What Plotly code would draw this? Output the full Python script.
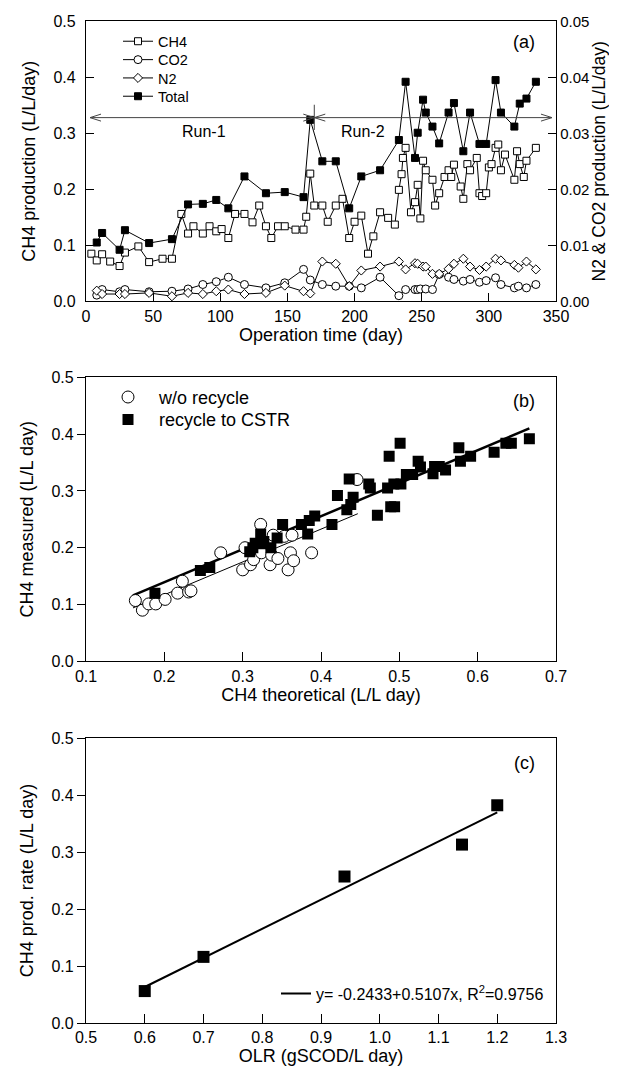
import numpy as np
import plotly.graph_objects as go

FONT = "Liberation Sans, Arial, sans-serif"

# ---------------- Panel (a) data ----------------
ch4_day = [4, 8, 12, 18, 25, 29, 39, 47, 57, 64, 71, 76, 80, 87, 92, 97, 101, 106, 111, 118,
           124, 129, 134, 138, 143, 148, 156, 162, 164, 167, 170, 176, 180, 186, 191, 196, 200,
           205, 210, 214, 219, 225, 230, 233, 235, 236, 238, 242, 245, 247, 249, 251, 253, 258,
           260, 263, 267, 270, 272, 274, 279, 281, 284, 286, 291, 293, 295, 298, 300, 302, 305,
           307, 309, 312, 319, 321, 323, 326, 328, 335]
ch4_val = [0.085, 0.073, 0.084, 0.071, 0.063, 0.087, 0.098, 0.070, 0.076, 0.076, 0.156, 0.121,
           0.134, 0.121, 0.134, 0.125, 0.129, 0.113, 0.156, 0.156, 0.141, 0.171, 0.134, 0.113,
           0.134, 0.134, 0.128, 0.128, 0.151, 0.228, 0.171, 0.171, 0.142, 0.171, 0.183, 0.113,
           0.142, 0.153, 0.085, 0.116, 0.159, 0.149, 0.137, 0.199, 0.227, 0.256, 0.274, 0.159,
           0.177, 0.208, 0.148, 0.251, 0.234, 0.217, 0.171, 0.193, 0.222, 0.234, 0.222, 0.244,
           0.205, 0.183, 0.245, 0.234, 0.256, 0.193, 0.188, 0.193, 0.239, 0.245, 0.274, 0.280,
           0.234, 0.262, 0.217, 0.268, 0.245, 0.222, 0.251, 0.274]

total_day = [8, 12, 25, 29, 47, 64, 76, 87, 97, 106, 118, 134, 148, 162, 167, 176, 186, 196,
             205, 219, 233, 238, 245, 247, 251, 253, 258, 263, 270, 274, 281, 286, 293, 298,
             305, 309, 319, 323, 328, 335]
total_val = [0.105, 0.122, 0.092, 0.127, 0.104, 0.111, 0.173, 0.174, 0.181, 0.166, 0.223,
             0.193, 0.195, 0.186, 0.324, 0.250, 0.250, 0.166, 0.223, 0.234, 0.288, 0.392,
             0.256, 0.301, 0.360, 0.337, 0.312, 0.282, 0.337, 0.354, 0.268, 0.337, 0.281,
             0.281, 0.395, 0.337, 0.312, 0.353, 0.362, 0.392]

co2_day = [8, 12, 25, 29, 47, 64, 76, 87, 97, 106, 118, 134, 148, 162, 167, 176, 186, 196,
           205, 219, 233, 238, 245, 247, 249, 253, 258, 263, 270, 274, 281, 286, 293, 298,
           305, 309, 319, 322, 328, 335]
co2_val = [0.0011, 0.0021, 0.0017, 0.0021, 0.0017, 0.0018, 0.0022, 0.0030, 0.0035, 0.0043,
           0.0030, 0.0024, 0.0033, 0.0057, 0.0038, 0.0030, 0.0027, 0.0027, 0.0024, 0.0043,
           0.0010, 0.0021, 0.0021, 0.0021, 0.0022, 0.0022, 0.0021, 0.0048, 0.0043, 0.0039,
           0.0036, 0.0039, 0.0034, 0.0037, 0.0042, 0.0030, 0.0024, 0.0027, 0.0024, 0.0030]

n2_day = [8, 12, 25, 29, 47, 64, 76, 87, 97, 106, 118, 134, 148, 162, 167, 176, 186, 196,
          205, 219, 233, 238, 245, 247, 251, 253, 258, 263, 270, 274, 281, 286, 293, 298,
          305, 309, 319, 322, 328, 335]
n2_val = [0.0019, 0.0013, 0.0013, 0.0013, 0.0015, 0.0009, 0.0015, 0.0013, 0.0018, 0.0021,
          0.0013, 0.0015, 0.0028, 0.0018, 0.0014, 0.0071, 0.0067, 0.0027, 0.0055, 0.0062,
          0.0071, 0.0057, 0.0068, 0.0067, 0.0062, 0.0062, 0.0049, 0.0049, 0.0058, 0.0067,
          0.0076, 0.0062, 0.0056, 0.0062, 0.0076, 0.0073, 0.0065, 0.0060, 0.0071, 0.0057]

run_labels = ["Run-1", "Run-2"]
run_start = [3, 170]
run_end = [170, 347]
run_arrow_y = 0.328
run_divider_y = [0.306, 0.351]
run_label_x = [88, 206]
run_label_y = 0.304

# ---------------- Panel (b) data ----------------
norec_x = [0.163, 0.172, 0.180, 0.189, 0.201, 0.217, 0.223, 0.231, 0.234, 0.272, 0.300, 0.303,
           0.310, 0.314, 0.323, 0.324, 0.335, 0.337, 0.339, 0.345, 0.353, 0.358, 0.361, 0.363,
           0.365, 0.388, 0.446]
norec_y = [0.107, 0.090, 0.101, 0.101, 0.109, 0.120, 0.141, 0.122, 0.124, 0.191, 0.161, 0.200,
           0.170, 0.179, 0.241, 0.191, 0.170, 0.187, 0.222, 0.181, 0.220, 0.161, 0.191, 0.222,
           0.177, 0.191, 0.320]

rec_x = [0.188, 0.246, 0.258, 0.309, 0.313, 0.316, 0.323, 0.325, 0.327, 0.336, 0.344, 0.351,
         0.375, 0.383, 0.385, 0.392, 0.414, 0.421, 0.433, 0.436, 0.438, 0.441, 0.461, 0.463,
         0.472, 0.485, 0.487, 0.489, 0.494, 0.493, 0.501, 0.502, 0.509, 0.517, 0.524, 0.527,
         0.543, 0.545, 0.551, 0.559, 0.576, 0.578, 0.591, 0.621, 0.636, 0.643, 0.666]
rec_y = [0.120, 0.160, 0.165, 0.193, 0.200, 0.208, 0.224, 0.207, 0.211, 0.200, 0.217, 0.241,
         0.241, 0.224, 0.248, 0.256, 0.241, 0.292, 0.267, 0.321, 0.276, 0.289, 0.312, 0.305,
         0.257, 0.305, 0.361, 0.272, 0.272, 0.312, 0.384, 0.312, 0.329, 0.329, 0.352, 0.342,
         0.330, 0.343, 0.343, 0.337, 0.376, 0.352, 0.361, 0.368, 0.384, 0.384, 0.392]

rec_fit = [0.023, 0.581]          # intercept, slope
rec_fit_range = [0.16, 0.666]
norec_fit = [0.0015, 0.578]
norec_fit_range = [0.16, 0.447]

# ---------------- Panel (c) data ----------------
olr_x = [0.60, 0.70, 0.94, 1.14, 1.20]
rate_y = [0.056, 0.116, 0.257, 0.313, 0.382]
c_fit = [-0.2433, 0.5107]
c_fit_r2 = 0.9756

# ---------------- layout geometry ----------------
W, H = 617, 1066
XL, XR = 78, 548


def ydom(top, bottom):
    return [1 - bottom / H, 1 - top / H]


xdom = [XL / W, XR / W]
dom_a = ydom(13.3, 293.3)
dom_b = ydom(369.3, 653.3)
dom_c = ydom(730, 1015)

fig = go.Figure()

line_k = dict(color="black", width=1)

# Panel (a) traces
fig.add_trace(go.Scatter(x=ch4_day, y=ch4_val, name="CH4", mode="lines+markers",
                         line=line_k, xaxis="x", yaxis="y", legend="legend",
                         marker=dict(symbol="square", size=7, color="white",
                                     line=dict(color="black", width=1))))
fig.add_trace(go.Scatter(x=co2_day, y=co2_val, name="CO2", mode="lines+markers",
                         line=line_k, xaxis="x", yaxis="y2", legend="legend2",
                         marker=dict(symbol="circle", size=8, color="white",
                                     line=dict(color="black", width=1))))
fig.add_trace(go.Scatter(x=n2_day, y=n2_val, name="N2", mode="lines+markers",
                         line=line_k, xaxis="x", yaxis="y2", legend="legend3",
                         marker=dict(symbol="diamond", size=7, color="white",
                                     line=dict(color="black", width=1))))
fig.add_trace(go.Scatter(x=total_day, y=total_val, name="Total", mode="lines+markers",
                         line=line_k, xaxis="x", yaxis="y", legend="legend4",
                         marker=dict(symbol="square", size=7, color="black",
                                     line=dict(color="black", width=1))))

# Panel (b) traces
fx = np.array(norec_fit_range)
fig.add_trace(go.Scatter(x=fx, y=norec_fit[0] + norec_fit[1] * fx, mode="lines",
                         line=dict(color="black", width=1), showlegend=False,
                         xaxis="x2", yaxis="y3"))
fx = np.array(rec_fit_range)
fig.add_trace(go.Scatter(x=fx, y=rec_fit[0] + rec_fit[1] * fx, mode="lines",
                         line=dict(color="black", width=2.5), showlegend=False,
                         xaxis="x2", yaxis="y3"))
fig.add_trace(go.Scatter(x=norec_x, y=norec_y, name="w/o recycle", mode="markers",
                         xaxis="x2", yaxis="y3", legend="legend5",
                         marker=dict(symbol="circle", size=12, color="white",
                                     line=dict(color="black", width=1))))
fig.add_trace(go.Scatter(x=rec_x, y=rec_y, name="recycle to CSTR", mode="markers",
                         xaxis="x2", yaxis="y3", legend="legend6",
                         marker=dict(symbol="square", size=11, color="black",
                                     line=dict(color="black", width=0))))

# Panel (c) traces
fx = np.array([min(olr_x), max(olr_x)])
fig.add_trace(go.Scatter(x=fx, y=c_fit[0] + c_fit[1] * fx, mode="lines",
                         name=f"y= {c_fit[0]:.4f}+{c_fit[1]:.4f}x, R<sup>2</sup>={c_fit_r2:.4f}",
                         line=dict(color="black", width=2), xaxis="x3", yaxis="y4",
                         legend="legend7"))
fig.add_trace(go.Scatter(x=olr_x, y=rate_y, mode="markers", showlegend=False,
                         xaxis="x3", yaxis="y4",
                         marker=dict(symbol="square", size=12, color="black",
                                     line=dict(width=0))))

# ---------------- axes ----------------
tickfont = dict(family=FONT, size=16, color="black")
titlefont = dict(family=FONT, size=18, color="black")
base = dict(showline=True, linecolor="black", linewidth=1.3, mirror=True, showgrid=False,
            zeroline=False, tickcolor="black", tickwidth=1.1, tickfont=tickfont,
            automargin=False)

fig.update_layout(
    xaxis=dict(base, domain=xdom, anchor="y", range=[0, 350], dtick=50, ticks="inside",
               ticklen=8, title=dict(text="Operation time (day)", font=titlefont, standoff=2)),
    yaxis=dict(base, domain=dom_a, anchor="x", range=[0, 0.5], dtick=0.1, tickformat=".1f",
               ticks="inside", ticklen=8, ticklabelstandoff=6,
               title=dict(text="CH4 production (L/L/day)", font=titlefont, standoff=13)),
    yaxis2=dict(base, overlaying="y", side="right", anchor="x", range=[0, 0.05], dtick=0.01,
                tickformat=".2f", ticks="inside", ticklen=8, ticklabelstandoff=0,
                tickfont=dict(family=FONT, size=15, color="black"),
                title=dict(text="N2 & CO2 production (L/L/day)",
                           font=dict(family=FONT, size=17.5, color="black"), standoff=0)),
    xaxis2=dict(base, domain=xdom, anchor="y3", range=[0.1, 0.7], dtick=0.1, tickformat=".1f",
                ticks="inside", ticklen=9,
                title=dict(text="CH4 theoretical (L/L day)", font=titlefont, standoff=2)),
    yaxis3=dict(base, domain=dom_b, anchor="x2", range=[0, 0.5], dtick=0.1, tickformat=".1f",
                ticks="outside", ticklen=8,
                title=dict(text="CH4 measured (L/L day)", font=titlefont, standoff=13)),
    xaxis3=dict(base, domain=xdom, anchor="y4", range=[0.5, 1.3], dtick=0.1, tickformat=".1f",
                ticks="inside", ticklen=9,
                title=dict(text="OLR (gSCOD/L day)", font=titlefont, standoff=2)),
    yaxis4=dict(base, domain=dom_c, anchor="x3", range=[0, 0.5], dtick=0.1, tickformat=".1f",
                ticks="outside", ticklen=8,
                title=dict(text="CH4 prod. rate (L/L day)", font=titlefont, standoff=13)),
)

# ---------------- legends (one per row so rows sit where the reference has them) -------
def leg(x, yc, size, **kw):
    return dict(x=x / W, y=1 - yc / H, xanchor="left", yanchor="middle",
                font=dict(family=FONT, size=size, color="black"),
                bgcolor="rgba(0,0,0,0)", borderwidth=0, **kw)


fig.update_layout(
    legend=leg(110, 33.3, 14.5),
    legend2=leg(110, 51.7, 14.5),
    legend3=leg(110, 70.0, 14.5),
    legend4=leg(110, 88.3, 14.5),
    legend5=leg(89, 389.3, 18, itemwidth=52),
    legend6=leg(89, 411.7, 18, itemwidth=52),
    legend7=leg(268, 985.7, 16),
)

# ---------------- run arrows ----------------
shapes = []
shapes.append(dict(type="line", xref="x", yref="y", x0=run_start[0], x1=run_end[-1],
                   y0=run_arrow_y, y1=run_arrow_y, line=dict(color="#444", width=1)))
shapes.append(dict(type="line", xref="x", yref="y", x0=run_end[0], x1=run_end[0],
                   y0=run_divider_y[0], y1=run_divider_y[1], line=dict(color="#444", width=1)))
for xs, xe in zip(run_start, run_end):
    shapes.append(dict(type="path", xref="x", yref="y", xsizemode="pixel", ysizemode="pixel",
                       xanchor=xs, yanchor=run_arrow_y, path="M11,3.5 L0,0 L11,-3.5",
                       line=dict(color="#444", width=1)))
    shapes.append(dict(type="path", xref="x", yref="y", xsizemode="pixel", ysizemode="pixel",
                       xanchor=xe, yanchor=run_arrow_y, path="M-11,3.5 L0,0 L-11,-3.5",
                       line=dict(color="#444", width=1)))

annotations = []
for lab, lx in zip(run_labels, run_label_x):
    annotations.append(dict(x=lx, y=run_label_y, xref="x", yref="y", text=lab, showarrow=False,
                            font=dict(family=FONT, size=16, color="black")))

panel_font = dict(family=FONT, size=18, color="black")
for lab, xr, yr, yv in [("(a)", "x domain", "y domain", 0.926),
                        ("(b)", "x2 domain", "y3 domain", 0.917),
                        ("(c)", "x3 domain", "y4 domain", 0.912)]:
    annotations.append(dict(x=0.932, y=yv, xref=xr, yref=yr, text=lab, showarrow=False,
                            xanchor="center", yanchor="middle", font=panel_font))

fig.update_layout(
    width=W, height=H, margin=dict(l=0, r=0, t=0, b=0),
    paper_bgcolor="white", plot_bgcolor="white",
    font=dict(family=FONT, color="black"),
    shapes=shapes, annotations=annotations,
)

fig.write_html("out.html")
